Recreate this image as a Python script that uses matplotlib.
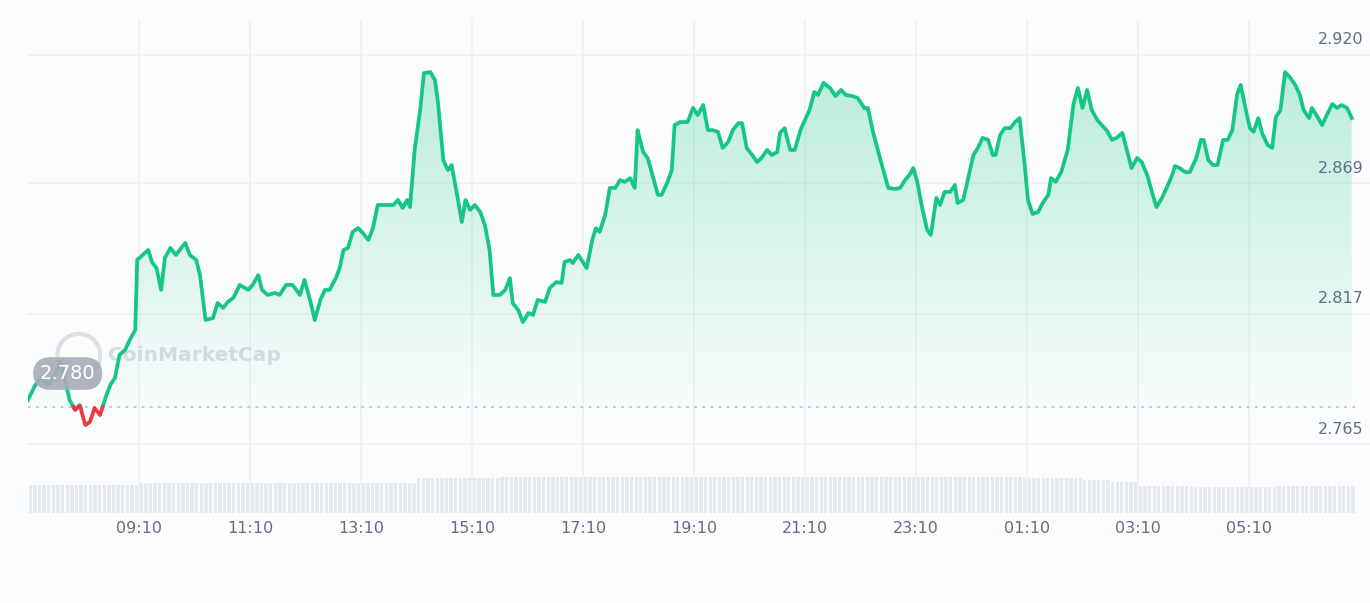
import numpy as np
import matplotlib.pyplot as plt
from matplotlib.patches import Polygon

# minutes after 07:10
minutes = [0, 8, 15, 22, 29, 35, 40, 45, 51, 56, 62, 67, 72, 78, 83, 89, 94, 99, 105, 110,
           116, 118, 124, 130, 134, 139, 144, 148, 154, 160, 164, 170, 175, 182, 186, 192, 200, 205, 211, 216,
           222, 229, 238, 243, 249, 253, 259, 267, 272, 279, 286, 294, 299, 305, 310, 316, 321, 326, 333, 337,
           341, 346, 351, 357, 361, 368, 373, 378, 386, 395, 400, 405, 410, 413, 418, 424, 428, 435, 440, 443,
           449, 454, 458, 464, 469, 473, 478, 483, 489, 494, 499, 503, 510, 516, 521, 524, 530, 535, 541, 546,
           551, 559, 564, 571, 577, 580, 586, 589, 595, 600, 604, 610, 614, 618, 624, 629, 635, 640, 645, 651,
           656, 659, 665, 670, 676, 681, 685, 691, 696, 699, 705, 713, 719, 724, 730, 735, 740, 746, 751, 757,
           762, 768, 772, 777, 783, 788, 793, 799, 804, 810, 813, 818, 824, 829, 835, 840, 845, 850, 854, 860,
           867, 873, 879, 884, 891, 897, 904, 908, 913, 921, 930, 937, 943, 948, 953, 957, 961, 966, 972, 976,
           982, 986, 991, 997, 1002, 1005, 1011, 1016, 1022, 1027, 1032, 1038, 1043, 1046, 1051, 1056, 1062, 1067, 1072, 1077,
           1081, 1086, 1092, 1097, 1103, 1106, 1111, 1117, 1124, 1130, 1135, 1140, 1145, 1150, 1156, 1161, 1166, 1172, 1177, 1183,
           1188, 1193, 1199, 1204, 1210, 1215, 1220, 1226, 1231, 1237, 1240, 1245, 1251, 1256, 1263, 1268, 1271, 1276, 1281, 1286,
           1292, 1297, 1302, 1307, 1311, 1317, 1321, 1325, 1330, 1334, 1340, 1345, 1349, 1354, 1359, 1364, 1370, 1375, 1379, 1385,
           1388, 1393, 1399, 1404, 1410, 1415, 1420, 1426, 1431]

prices = [2.7827, 2.7887, 2.7914, 2.7887, 2.7926, 2.7978, 2.7907, 2.7827, 2.7787, 2.7807, 2.7727, 2.7739, 2.7795, 2.7767, 2.7827, 2.7887, 2.7914, 2.8006, 2.8026, 2.8066,
          2.8106, 2.8384, 2.8404, 2.8424, 2.8376, 2.8352, 2.8265, 2.8392, 2.8432, 2.8404, 2.8424, 2.8452, 2.8404, 2.8384, 2.8324, 2.8145, 2.8153, 2.8213, 2.8193, 2.8217,
          2.8233, 2.8285, 2.8265, 2.8285, 2.8324, 2.8265, 2.8245, 2.8253, 2.8245, 2.8285, 2.8285, 2.8245, 2.8305, 2.8225, 2.8145, 2.8225, 2.8265, 2.8265, 2.8312, 2.8352,
          2.8424, 2.8432, 2.8496, 2.8511, 2.8496, 2.8464, 2.8511, 2.8603, 2.8603, 2.8603, 2.8623, 2.8591, 2.8623, 2.8595, 2.8822, 2.8981, 2.9128, 2.9132, 2.9100, 2.9021,
          2.8782, 2.8742, 2.8762, 2.8643, 2.8535, 2.8623, 2.8583, 2.8603, 2.8575, 2.8523, 2.8424, 2.8245, 2.8245, 2.8265, 2.8312, 2.8213, 2.8185, 2.8137, 2.8173, 2.8165,
          2.8225, 2.8217, 2.8273, 2.8296, 2.8293, 2.8376, 2.8384, 2.8372, 2.8404, 2.8376, 2.8352, 2.8464, 2.8511, 2.8496, 2.8563, 2.8671, 2.8671, 2.8702, 2.8695, 2.8710,
          2.8671, 2.8901, 2.8814, 2.8790, 2.8710, 2.8643, 2.8643, 2.8691, 2.8742, 2.8921, 2.8933, 2.8933, 2.8989, 2.8961, 2.9001, 2.8901, 2.8901, 2.8894, 2.8830, 2.8854,
          2.8901, 2.8929, 2.8929, 2.8830, 2.8802, 2.8774, 2.8790, 2.8822, 2.8802, 2.8814, 2.8890, 2.8909, 2.8822, 2.8822, 2.8901, 2.8941, 2.8981, 2.9053, 2.9041, 2.9089,
          2.9069, 2.9037, 2.9061, 2.9041, 2.9037, 2.9029, 2.8989, 2.8989, 2.8901, 2.8790, 2.8671, 2.8667, 2.8671, 2.8702, 2.8722, 2.8750, 2.8702, 2.8603, 2.8504, 2.8484,
          2.8631, 2.8603, 2.8655, 2.8655, 2.8683, 2.8611, 2.8623, 2.8702, 2.8802, 2.8830, 2.8870, 2.8862, 2.8802, 2.8802, 2.8882, 2.8909, 2.8909, 2.8933, 2.8949, 2.8782,
          2.8623, 2.8567, 2.8575, 2.8611, 2.8643, 2.8710, 2.8695, 2.8734, 2.8822, 2.9001, 2.9069, 2.8989, 2.9061, 2.8981, 2.8941, 2.8921, 2.8901, 2.8862, 2.8870, 2.8890,
          2.8822, 2.8750, 2.8790, 2.8774, 2.8722, 2.8655, 2.8595, 2.8631, 2.8671, 2.8722, 2.8758, 2.8750, 2.8734, 2.8734, 2.8790, 2.8862, 2.8862, 2.8782, 2.8762, 2.8762,
          2.8862, 2.8862, 2.8901, 2.9041, 2.9081, 2.8973, 2.8909, 2.8894, 2.8949, 2.8890, 2.8842, 2.8830, 2.8953, 2.8981, 2.9132, 2.9112, 2.9081, 2.9041, 2.8981, 2.8949,
          2.8989, 2.8961, 2.8921, 2.8961, 2.9005, 2.8989, 2.9001, 2.8989, 2.8949]

# volume per half hour (millions)
volume = [2.8, 2.8, 2.8, 2.8, 3.0, 3.0, 3.0, 3.0, 3.0, 3.0, 3.0, 3.0, 3.0, 3.0,
          3.5, 3.5, 3.5, 3.6, 3.6, 3.6, 3.6, 3.6, 3.6, 3.6, 3.6, 3.6, 3.6, 3.6, 3.6, 3.6,
          3.6, 3.6, 3.6, 3.6, 3.6, 3.6, 3.5, 3.5, 3.3, 3.1, 2.7, 2.7, 2.6, 2.6, 2.6, 2.7, 2.7, 2.7]

tick_labels = ["09:10", "11:10", "13:10", "15:10", "17:10", "19:10", "21:10",
               "23:10", "01:10", "03:10", "05:10"]
y_ticks = [2.765, 2.817, 2.869, 2.920]
base = 2.780

GREEN = "#16c784"
RED = "#ea3943"
BG = "#fbfcfe"
GRID = "#eef0f4"

fig = plt.figure(figsize=(13.7, 6.03), dpi=100, facecolor=BG)
ax = fig.add_axes([0.0204, 0.1493, 0.9686, 0.8507])
ax.set_facecolor("none")
xmax = 1434.5
ylo, yhi = 2.7377, 2.9419
ax.set_xlim(0, xmax)
ax.set_ylim(ylo, yhi)
for s in ax.spines.values():
    s.set_visible(False)
ax.set_yticks([])
ax.set_xticks([])

# grid
for v in y_ticks:
    ax.axhline(v, xmin=0, xmax=1.03, color=GRID, lw=1.2, clip_on=False, zorder=0)
    ax.text(1.0065, v + 0.003, f"{v:.3f}", transform=ax.get_yaxis_transform(),
            ha="right", va="bottom", fontsize=11.5, color="#616e85")
for i, lab in enumerate(tick_labels):
    t = 120 * (i + 1)
    ax.axvline(t, ymin=0, ymax=0.96, color=GRID, lw=1.2, zorder=0)
    ax.text(t, -0.015, lab, transform=ax.get_xaxis_transform(), ha="center", va="top",
            fontsize=11.5, color="#616e85")

# gradient fill under line
xs = np.array(minutes, dtype=float)
ys = np.array(prices)
grad = np.linspace(0.28, 0.0, 256).reshape(-1, 1)
img = np.zeros((256, 1, 4))
img[..., 0], img[..., 1], img[..., 2] = 0x16 / 255, 0xc7 / 255, 0x84 / 255
img[..., 3] = grad
im = ax.imshow(img, extent=[0, xmax, ylo + 0.035, max(prices)], aspect="auto", zorder=1, origin="upper")
poly = Polygon(np.column_stack([np.r_[xs[0], xs, xs[-1]], np.r_[ylo, ys, ylo]]),
               closed=True, facecolor="none", edgecolor="none")
ax.add_patch(poly)
im.set_clip_path(poly)

# baseline
ax.axhline(base, color="#c3c8d2", lw=1.3, ls=(0, (1.5, 3)), zorder=2)

# line, red below base
xd = np.linspace(xs[0], xs[-1], 6000)
xd = np.unique(np.r_[xd, xs])
yd = np.interp(xd, xs, ys)
ax.plot(xd, np.ma.masked_where(yd < base - 0.0004, yd), color=GREEN, lw=2.7, zorder=3, solid_joinstyle="round")
ax.plot(xd, np.ma.masked_where(yd > base, yd), color=RED, lw=2.7, zorder=3, solid_joinstyle="round")

# watermark and current label
ax.text(87, 2.8005, "CoinMarketCap", fontsize=14.5, color="#c8ccd4", alpha=0.7,
        fontweight="bold", va="center", zorder=2)
ax.scatter([55], [2.8005], s=950, facecolor="none", edgecolor="#dcdfe5", lw=3, zorder=2)
ax.text(43, 2.7932, "2.780", fontsize=14, color="white", ha="center", va="center", zorder=5,
        bbox=dict(boxstyle="round,pad=0.35,rounding_size=0.9", fc="#a5acb8", ec="none", alpha=0.9))

# volume
vax = fig.add_axes([0.0204, 0.1493, 0.9686, 0.0713])
vax.set_facecolor("none")
vt = np.arange(288) * 5 + 2.5
vv = np.array([volume[int(i // 6)] for i in range(288)])
vax.bar(vt, vv, width=3.6, color="#e6e9ee", zorder=1)
vax.set_xlim(0, xmax)
vax.set_ylim(0, 4.3)
vax.axis("off")

plt.savefig("out.png", facecolor=BG)
